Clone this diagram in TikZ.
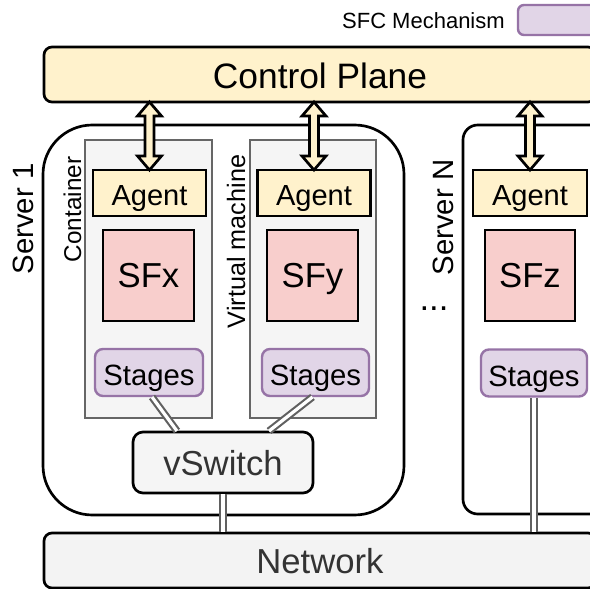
\documentclass[tikz,border=0pt]{standalone}
\usepackage{fontspec}
\setmainfont{Liberation Sans}
\usetikzlibrary{calc}

\definecolor{cpfill}{HTML}{FFF2CC}
\definecolor{sffill}{HTML}{F8CECC}
\definecolor{stfill}{HTML}{E1D5E7}
\definecolor{stline}{HTML}{9673A6}
\definecolor{greyfill}{HTML}{F5F5F5}
\definecolor{netfill}{HTML}{F3F3F3}
\definecolor{greyline}{HTML}{666666}
\definecolor{darktext}{HTML}{333333}
\definecolor{linkgrey}{HTML}{606060}

\newcommand\fsz[1]{\fontsize{#1}{#1}\selectfont}

% hollow double-headed arrow between the control plane and an agent
\newcommand\flexarrow[2]{%
  \filldraw[flexarr] let \p1=(#2.north |- #1.south), \p2=(#2.north) in
    (\x2,\y1) -- ({\x2+9pt},{\y1-10.5pt}) -- ({\x2+3.4pt},{\y1-10.5pt})
    -- ({\x2+3.4pt},{\y2+10.5pt}) -- ({\x2+9pt},{\y2+10.5pt}) -- (\x2,\y2)
    -- ({\x2-9pt},{\y2+10.5pt}) -- ({\x2-3.4pt},{\y2+10.5pt})
    -- ({\x2-3.4pt},{\y1-10.5pt}) -- ({\x2-9pt},{\y1-10.5pt}) -- cycle;}

\tikzset{
  sz/.style 2 args={minimum width=#1*0.75pt, minimum height=#2*0.75pt},
  base/.style={inner sep=0pt, outer sep=0pt, line width=2pt, text depth=0pt},
  plane/.style={base, draw=black, fill=cpfill, rounded corners=6pt,
    font=\fsz{26.5}, text height=21.3pt},
  server/.style={base, draw=black, fill=white},
  host/.style={base, draw=greyline, fill=greyfill},
  agentbox/.style={base, draw=black, fill=cpfill, font=\fsz{21.8}, text height=18.6pt},
  sfbox/.style={base, draw=black, fill=sffill, font=\fsz{26}, text height=18.6pt},
  stagebox/.style={base, draw=stline, line width=1.8pt, fill=stfill, rounded corners=6pt,
    font=\fsz{22}, text height=19.5pt},
  switchbox/.style={base, draw=black, fill=greyfill, rounded corners=7.5pt,
    text=darktext, font=\fsz{26}, text height=20.1pt},
  netbox/.style={base, draw=black, fill=netfill, rounded corners=6pt,
    text=darktext, font=\fsz{26}, text height=19.5pt},
  sidelabel/.style={inner sep=0pt, rotate=90},
  link/.style={draw=linkgrey, line width=1.6pt, double=white, double distance=2.4pt},
  flexarr/.style={draw=black, fill=cpfill, line width=2pt, line join=miter},
}

\begin{document}
\begin{tikzpicture}[x=0.75pt, y=-0.75pt]
\clip (0,0) rectangle (590,589);
\fill[white] (0,0) rectangle (590,589);

% legend
\node[anchor=east, inner sep=0pt, font=\fsz{16.5}] (legtext) at (505,21) {SFC Mechanism};
\node[base, draw=stline, line width=1.8pt, fill=stfill, rounded corners=4.5pt, sz={122}{30}] (legbox) at (579,20) {};

% control plane
\node[plane, sz={552}{55}] (cp) at (320,74.5) {Control Plane};

% servers
\node[server, rounded corners=37pt, sz={361}{390}] (srv1) at (223.5,320) {};
\node[server, rounded corners=11pt, sz={257}{389}] (srvN) at (591.5,319.5) {};
\node[sidelabel, font=\fsz{22}] (srv1lbl) at (23.5,219) {Server 1};
\node[sidelabel, font=\fsz{22}] (srvNlbl) at (443,217.5) {Server N};
\node[anchor=base, inner sep=0pt, font=\fsz{26}] (dots) at (434,310) {...};

% container and virtual machine
\node[host, sz={127}{278}] (ctr) at (148.5,279) {};
\node[host, sz={126}{278}] (vm) at (313,279) {};
\node[sidelabel, font=\fsz{18.2}] (ctrlbl) at (72.5,209.5) {Container};
\node[sidelabel, font=\fsz{18.9}] (vmlbl) at (236,241.5) {Virtual machine};

% agents
\node[agentbox, sz={113}{46}] (ag1) at (149.5,193) {Agent};
\node[agentbox, sz={113}{46}] (ag2) at (314,193) {Agent};
\node[agentbox, sz={114}{46}] (ag3) at (530,193) {Agent};

% service functions
\node[sfbox, sz={91}{91}] (sfx) at (148.5,275.5) {SFx};
\node[sfbox, sz={91}{91}] (sfy) at (312.5,275.5) {SFy};
\node[sfbox, sz={90}{91}] (sfz) at (530,275.5) {SFz};

% stages
\node[stagebox, sz={108}{47}] (stg1) at (149,372.5) {Stages};
\node[stagebox, sz={107}{47}] (stg2) at (315.5,372.5) {Stages};
\node[stagebox, sz={106}{47}] (stg3) at (534,373) {Stages};

% vSwitch and network
\node[switchbox, sz={180}{61}] (vsw) at (223,462.5) {vSwitch};
\node[netbox, sz={552}{55}] (net) at (320,560.5) {Network};

% data-plane links
\draw[link] ($(stg1.south)+(3,1)$) -- ($(vsw.north)+(-46,-1)$);
\draw[link] ($(stg2.south)+(-3,1)$) -- ($(vsw.north)+(46,-1)$);
\draw[link] ($(vsw.south)+(0,1)$) -- ($(vsw.south |- net.north)+(0,-1)$);
\draw[link] ($(stg3.south)+(0,1)$) -- ($(stg3.south |- net.north)+(0,-1)$);

% control links
\flexarrow{cp}{ag1}
\flexarrow{cp}{ag2}
\flexarrow{cp}{ag3}
\end{tikzpicture}
\end{document}
